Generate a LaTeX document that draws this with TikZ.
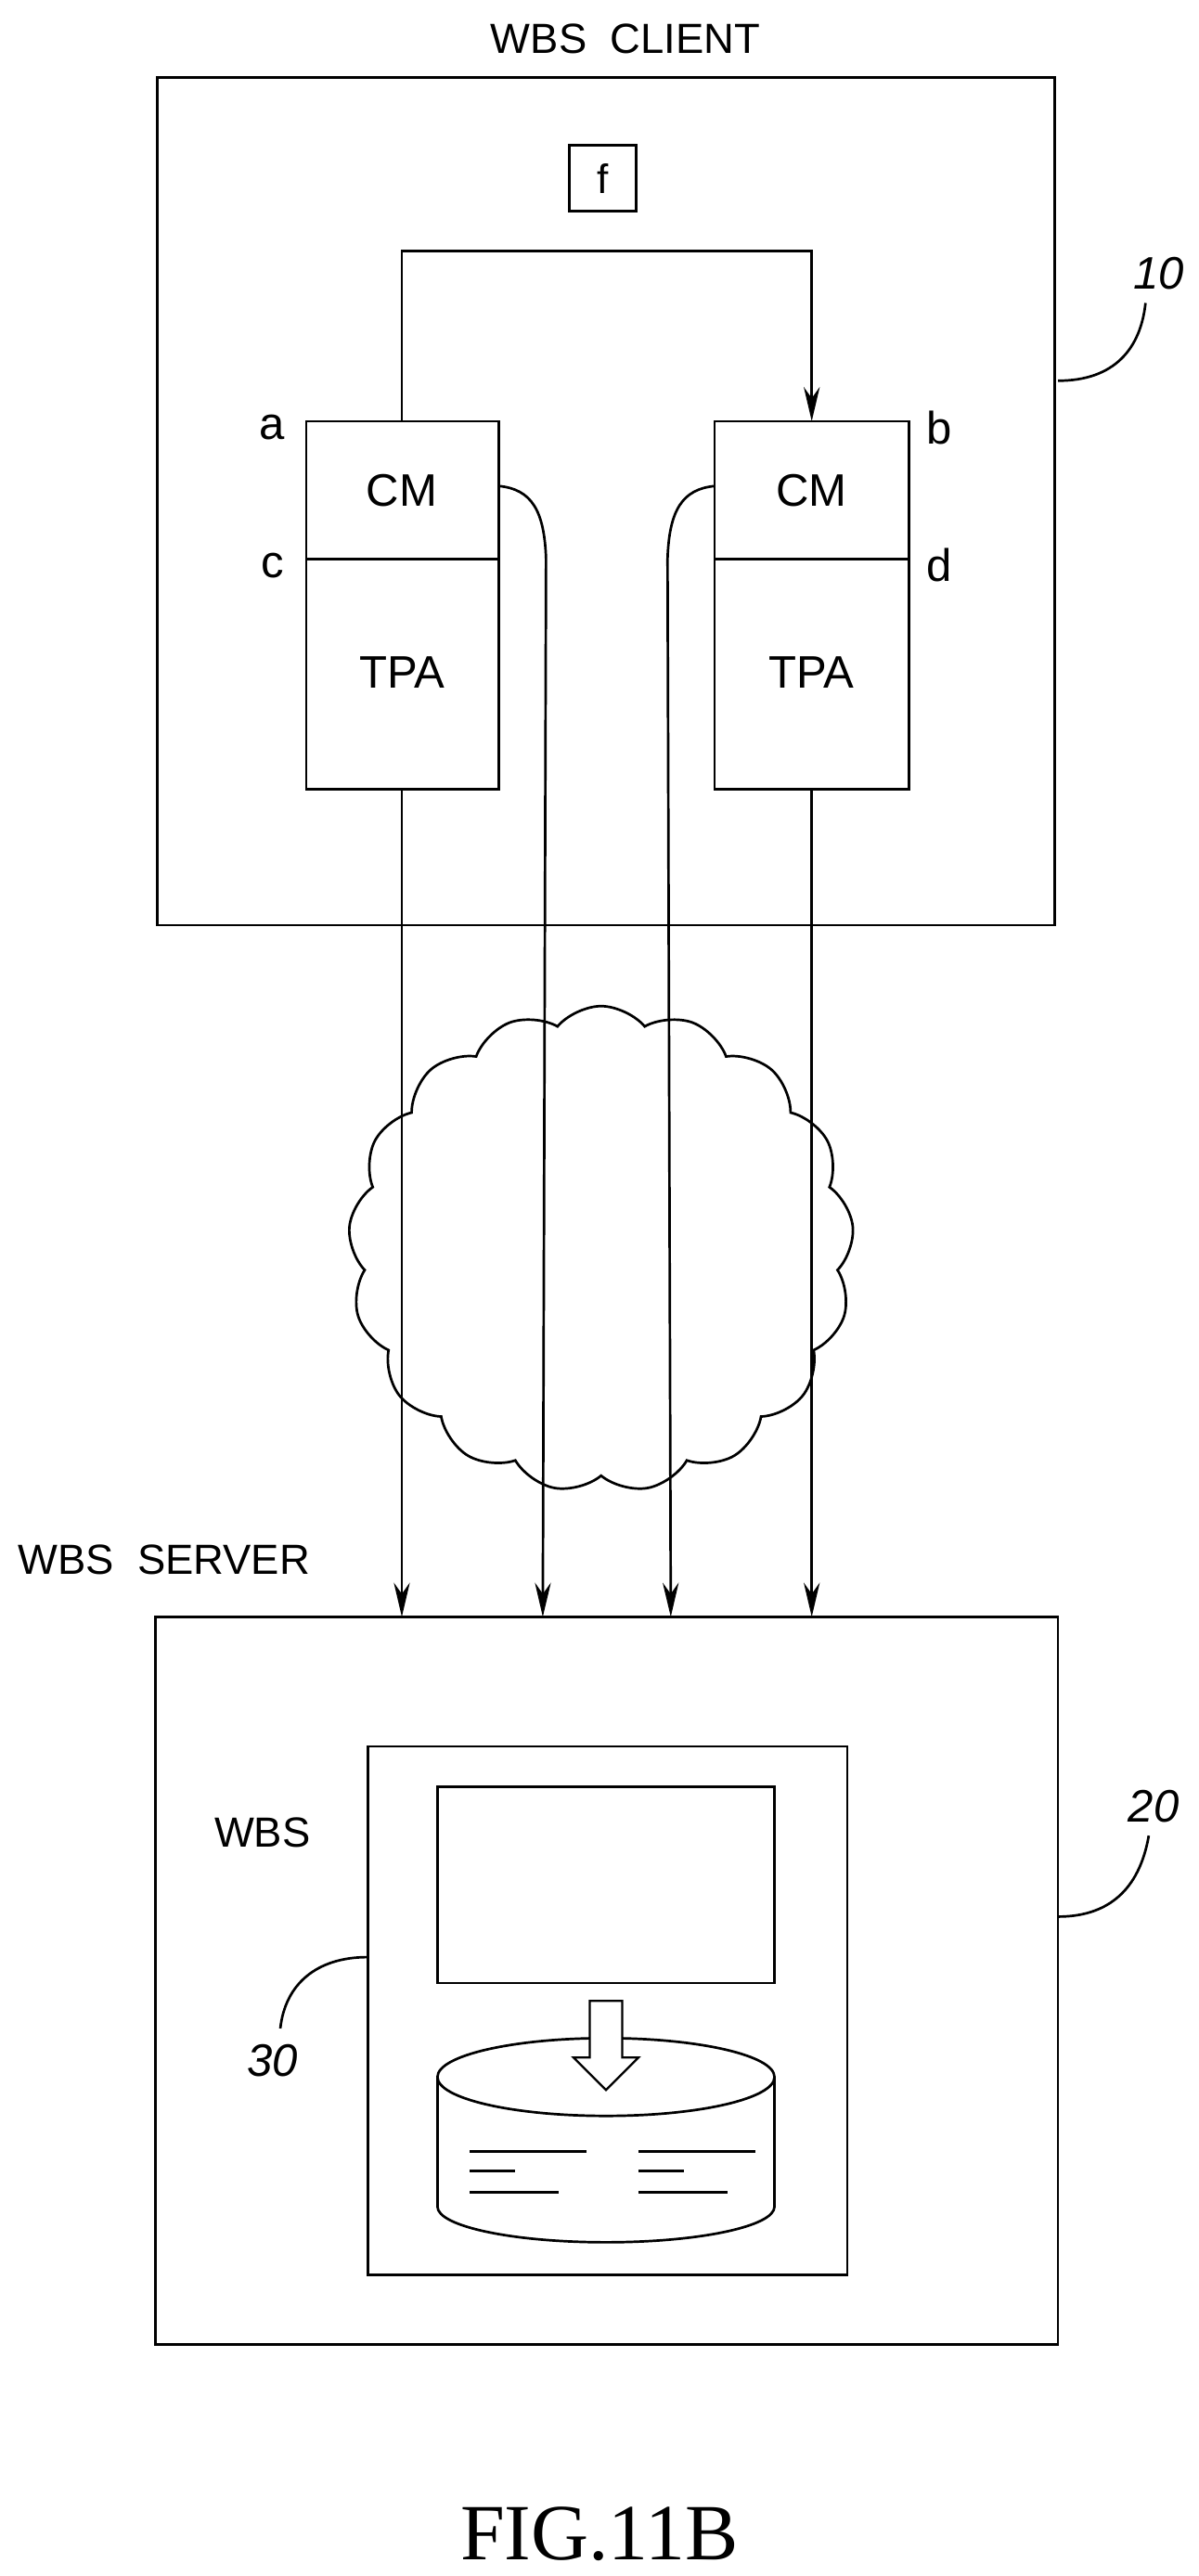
\documentclass[tikz,border=0pt]{standalone}
\usepackage{fontspec}
\setmainfont{Liberation Sans}
\newfontfamily\figfont{Liberation Serif}
\usetikzlibrary{shapes.symbols,shapes.arrows,shapes.geometric,arrows.meta}

\begin{document}
\begin{tikzpicture}[x=0.05cm,y=-0.05cm,line width=2.2pt,
  lbl/.style={font=\fontsize{40}{44}\selectfont},
  ttl/.style={font=\fontsize{37}{40}\selectfont},
  num/.style={font=\itshape\fontsize{40}{44}\selectfont},
  >={Stealth[length=30pt,width=14pt]}]
% Place nodes
\useasboundingbox (0,0) rectangle (740,1590);

\node[ttl] (ctitle) at (386,24) {WBS\ \ CLIENT};
\draw (97,48) rectangle (651,571); %client
\node[draw,minimum width=41*0.05cm,minimum height=41*0.05cm,inner sep=0pt,font=\fontsize{36}{40}\selectfont] (f) at (372,110) {f};

% cloud
\node[cloud,draw,cloud puffs=17,cloud puff arc=100,aspect=1.05,minimum width=312*0.05cm,minimum height=300*0.05cm] (net) at (371,771) {};

% left module
\draw (189,260) rectangle (308,487);
\draw (189,345) -- (308,345);
\node[lbl] (cmL) at (248,303) {CM};
\node[lbl] (tpaL) at (248,415) {TPA};
% right module
\draw (441,260) rectangle (561,487);
\draw (441,345) -- (561,345);
\node[lbl] (cmR) at (501,303) {CM};
\node[lbl] (tpaR) at (501,415) {TPA};

\node[lbl] (a) at (168,264) {a};
\node[lbl] (c) at (168,349) {c};
\node[lbl] (b) at (580,264) {b};
\node[lbl] (d) at (580,349) {d};

\coordinate (topL) at (248,260);
\coordinate (topR) at (501,260);
\draw[->] (topL) -- (248,155) -- (501,155) -- (topR);

% server
\node[ttl,anchor=west] (stitle) at (8,963) {WBS\ \ SERVER};
\draw (96,998) rectangle (653,1447);

% links to server
\draw[->] (248,487) -- (248,998);
\draw[->] (501,487) -- (501,998);
\draw[->] (308,300) .. controls (328,302) and (336,315) .. (337,345) -- (335,998);
\draw[->] (441,300) .. controls (421,302) and (413,315) .. (412,345) -- (414,998);

% inner WBS
\draw (227,1078) rectangle (523,1404);
\node[ttl] (wbs) at (162,1131) {WBS};
\draw (270,1103) rectangle (478,1224);
% database
\draw (270,1282) -- (270,1362) arc[start angle=180,end angle=0,x radius=104,y radius=22] -- (478,1282);
\draw (374,1282) ellipse[x radius=104,y radius=24];
\draw[fill=white,line width=1.8pt] (364,1235) -- (384,1235) -- (384,1270) -- (394,1270) -- (374,1290) -- (354,1270) -- (364,1270) -- cycle;
\foreach \x in {0,104} {
  \draw (290+\x,1328) -- (362+\x,1328);
  \draw (290+\x,1340) -- (318+\x,1340);
  \draw (290+\x,1353) -- (345+\x,1353);
}

% reference numerals
\node[num] (n10) at (715,169) {10};
\draw (653,235) .. controls (688,235) and (704,215) .. (707,187);
\node[num] (n20) at (712,1115) {20};
\draw (653,1183) .. controls (688,1183) and (704,1162) .. (709,1133);
\node[num] (n30) at (168,1272) {30};
\draw (227,1208) .. controls (195,1208) and (176,1225) .. (173,1252);

\node[font=\figfont\fontsize{70}{74}\selectfont] (fig) at (370,1564) {FIG.11B};
\end{tikzpicture}
\end{document}
